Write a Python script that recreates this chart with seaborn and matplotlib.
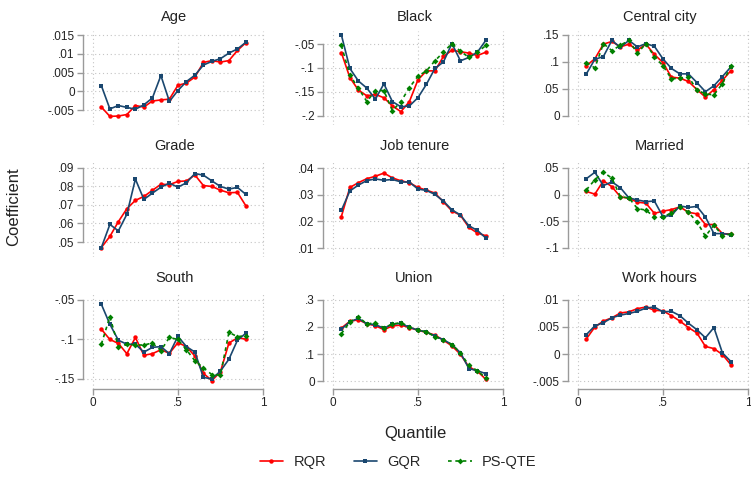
import numpy as np
import pandas as pd
import seaborn as sns
import matplotlib.pyplot as plt
from matplotlib.lines import Line2D
from matplotlib.ticker import FixedLocator, FuncFormatter

# quantile grid
quantiles = [0.05, 0.10, 0.15, 0.20, 0.25, 0.30, 0.35, 0.40, 0.45,
             0.50, 0.55, 0.60, 0.65, 0.70, 0.75, 0.80, 0.85, 0.90]

# coefficient estimates
age_rqr = [-.0042, -.0067, -.0066, -.0062, -.0038, -.0042, -.0026, -.0023, -.0021,
           .0016, .0022, .0038, .0077, .0082, .0078, .0082, .0109, .0130]
age_gqr = [.0015, -.0047, -.0038, -.0043, -.0048, -.0036, -.0018, .0042, -.0027,
           .0002, .0026, .0043, .0070, .0080, .0087, .0102, .0113, .0131]

black_rqr = [-.068, -.120, -.146, -.158, -.155, -.162, -.179, -.191, -.170,
             -.125, -.106, -.106, -.076, -.063, -.066, -.069, -.074, -.067]
black_gqr = [-.031, -.101, -.127, -.142, -.165, -.133, -.170, -.181, -.179,
             -.162, -.134, -.101, -.0875, -.049, -.085, -.078, -.067, -.042]
black_psqte = [-.053, -.115, -.142, -.170, -.147, -.147, -.189, -.170, -.141,
               -.117, -.106, -.085, -.067, -.049, -.065, -.078, -.067, -.053]

city_rqr = [.093, .106, .133, .138, .128, .133, .122, .133, .114,
            .099, .072, .070, .064, .049, .035, .049, .066, .084]
city_gqr = [.078, .105, .110, .140, .127, .140, .128, .134, .129,
            .106, .088, .078, .078, .062, .045, .056, .073, .091]
city_psqte = [.099, .089, .134, .121, .131, .140, .116, .134, .110,
              .093, .069, .070, .073, .048, .041, .039, .060, .093]

grade_rqr = [.047, .053, .061, .068, .0725, .0746, .0779, .0812, .081,
             .0827, .083, .0862, .0805, .080, .078, .0766, .0768, .0695]
grade_gqr = [.047, .0595, .056, .065, .084, .073, .0764, .0796, .0818,
             .0796, .082, .087, .0861, .083, .080, .0786, .0795, .0757]

tenure_rqr = [.0218, .0327, .0345, .0360, .0369, .0381, .0363, .0352, .0345,
              .0327, .0317, .0306, .0273, .0239, .0223, .0177, .0156, .0146]
tenure_gqr = [.0241, .0314, .0336, .0353, .0359, .0354, .0357, .0348, .0347,
              .0321, .0316, .0301, .0276, .0243, .0224, .0183, .0166, .0137]

married_rqr = [.006, .001, .026, .015, -.004, -.007, -.014, -.016, -.035,
               -.031, -.028, -.023, -.033, -.036, -.056, -.056, -.073, -.074]
married_gqr = [.030, .042, .017, .024, .013, -.006, -.010, -.013, -.012,
               -.041, -.039, -.021, -.024, -.022, -.042, -.073, -.073, -.075]
married_psqte = [.009, .028, .042, .031, -.004, -.006, -.026, -.029, -.042,
                 -.042, -.034, -.023, -.033, -.051, -.078, -.057, -.077, -.074]

south_rqr = [-.087, -.100, -.105, -.118, -.0975, -.120, -.118, -.113, -.1175,
             -.104, -.109, -.121, -.143, -.152, -.141, -.1045, -.098, -.0995]
south_gqr = [-.0555, -.0807, -.101, -.106, -.106, -.116, -.110, -.109, -.118,
             -.096, -.109, -.116, -.148, -.150, -.140, -.125, -.101, -.092]
south_psqte = [-.106, -.071, -.109, -.106, -.107, -.107, -.1045, -.114, -.0975,
               -.100, -.113, -.127, -.136, -.1445, -.145, -.091, -.0965, -.095]

union_rqr = [.196, .221, .227, .212, .205, .190, .204, .207, .198,
             .188, .180, .170, .151, .130, .099, .052, .036, .006]
union_gqr = [.192, .219, .232, .211, .209, .195, .211, .213, .199,
             .188, .182, .166, .153, .135, .105, .046, .038, .027]
union_psqte = [.175, .219, .238, .211, .216, .197, .211, .216, .201,
               .188, .182, .164, .153, .135, .104, .058, .038, .011]

hours_rqr = [.0028, .0050, .0061, .0067, .0076, .0078, .0084, .0087, .0081,
             .0080, .0071, .0061, .0049, .0039, .0014, .0010, -.0001, -.0020]
hours_gqr = [.0036, .0052, .0058, .0067, .0072, .0075, .0079, .0085, .0087,
             .0078, .0079, .0071, .0057, .0045, .0030, .0049, .0002, -.0014]

titles = ["Age", "Black", "Central city", "Grade", "Job tenure", "Married",
          "South", "Union", "Work hours"]
series = [
    {"RQR": age_rqr, "GQR": age_gqr},
    {"RQR": black_rqr, "GQR": black_gqr, "PS-QTE": black_psqte},
    {"RQR": city_rqr, "GQR": city_gqr, "PS-QTE": city_psqte},
    {"RQR": grade_rqr, "GQR": grade_gqr},
    {"RQR": tenure_rqr, "GQR": tenure_gqr},
    {"RQR": married_rqr, "GQR": married_gqr, "PS-QTE": married_psqte},
    {"RQR": south_rqr, "GQR": south_gqr, "PS-QTE": south_psqte},
    {"RQR": union_rqr, "GQR": union_gqr, "PS-QTE": union_psqte},
    {"RQR": hours_rqr, "GQR": hours_gqr},
]
yticks = [
    [-.005, 0, .005, .01, .015],
    [-.2, -.15, -.1, -.05],
    [0, .05, .1, .15],
    [.05, .06, .07, .08, .09],
    [.01, .02, .03, .04],
    [-.1, -.05, 0, .05],
    [-.15, -.1, -.05],
    [0, .1, .2, .3],
    [-.005, 0, .005, .01],
]
ylims = [
    (-.0090, .0161), (-.2188, -.0229), (-.0167, .1574),
    (.0419, .0943), (.00663, .0430), (-.1169, .0650),
    (-.1627, -.0399), (-.0296, .3296), (-.00648, .01148),
]

styles = {
    "RQR": dict(color="#ff0000", marker="o", linestyle="-", markersize=3.2),
    "GQR": dict(color="#1a476f", marker="s", linestyle="-", markersize=3.0),
    "PS-QTE": dict(color="#008000", marker="D", linestyle=(0, (2.2, 2.2)), markersize=3.0),
}

sns.set_theme(style="white")
plt.rcParams["font.family"] = ["Liberation Sans", "DejaVu Sans"]

W, H = 751, 479
fig = plt.figure(figsize=(W / 100, H / 100), dpi=100)

col_left = [83, 323, 568]
col_w = 183
row_span = [(31, 125), (160, 257), (292, 389)]


def fmt(v, pos=None):
    if abs(v) < 1e-12:
        return "0"
    s = ("%.3f" % v).rstrip("0").rstrip(".")
    return s.replace("0.", ".")


grid_kw = dict(color="#c4c4c4", linestyle=(0, (1, 2.5)), linewidth=0.8, zorder=0)
axis_gray = "#9a9a9a"

for i, title in enumerate(titles):
    r, c = divmod(i, 3)
    top, bot = row_span[r]
    ax = fig.add_axes([col_left[c] / W, 1 - bot / H, col_w / W, (bot - top) / H])
    ax.set_xlim(-0.058, 1.018)
    ax.set_ylim(*ylims[i])

    for yt in yticks[i]:
        ax.axhline(yt, **grid_kw)
    for xt in [0, 0.5, 1]:
        ax.axvline(xt, **grid_kw)

    for name, vals in series[i].items():
        st = styles[name]
        sns.lineplot(x=quantiles, y=vals, ax=ax, color=st["color"], marker=st["marker"],
                     linestyle=st["linestyle"], markersize=st["markersize"],
                     markeredgewidth=0, linewidth=1.2, errorbar=None, sort=False)

    for side in ["top", "right"]:
        ax.spines[side].set_visible(False)
    ax.spines["left"].set_color(axis_gray)
    ax.spines["left"].set_linewidth(1.0)
    ax.spines["left"].set_bounds(min(yticks[i]), max(yticks[i]))
    ax.yaxis.set_major_locator(FixedLocator(yticks[i]))
    ax.yaxis.set_major_formatter(FuncFormatter(fmt))
    ax.tick_params(axis="y", which="major", left=True, length=4, width=1.0,
                   color=axis_gray, labelsize=8.5, labelcolor="#222222", pad=2)

    if r == 2:
        ax.spines["bottom"].set_color(axis_gray)
        ax.spines["bottom"].set_linewidth(1.0)
        ax.spines["bottom"].set_bounds(0, 1)
        ax.set_xticks([0, 0.5, 1])
        ax.xaxis.set_major_formatter(FuncFormatter(fmt))
        ax.tick_params(axis="x", which="major", bottom=True, length=4, width=1.0,
                       color=axis_gray, labelsize=8.5, labelcolor="#222222", pad=2)
    else:
        ax.spines["bottom"].set_visible(False)
        ax.set_xticks([])

    ax.set_xlabel("")
    ax.set_ylabel("")
    ax.set_title(title, fontsize=10.5, color="#222222", pad=7)
    ax.set_facecolor("white")

fig.text(0.018, 0.568, "Coefficient", rotation=90, ha="center", va="center",
         fontsize=12, color="#222222")
fig.text(0.553, 0.096, "Quantile", ha="center", va="center", fontsize=12, color="#222222")

handles = [Line2D([], [], color=styles[n]["color"], marker=styles[n]["marker"],
                  linestyle=styles[n]["linestyle"], markersize=styles[n]["markersize"],
                  markeredgewidth=0, linewidth=1.2)
           for n in ["RQR", "GQR", "PS-QTE"]]
fig.legend(handles, ["RQR", "GQR", "PS-QTE"], loc="center", bbox_to_anchor=(0.53, 0.035),
           ncol=3, frameon=False, fontsize=10.5, handlelength=1.6, columnspacing=1.9,
           handletextpad=0.7)

fig.savefig("out.png", dpi=100, facecolor="white")
